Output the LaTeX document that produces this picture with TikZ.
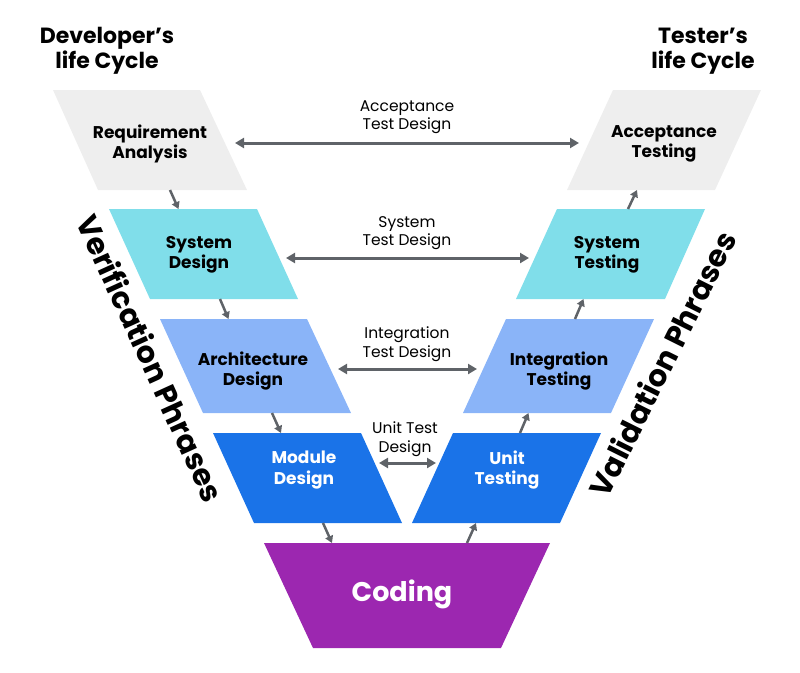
\documentclass[tikz,border=0pt]{standalone}
\usepackage{fontspec}
\setmainfont{Poppins}
\usetikzlibrary{arrows.meta}
\definecolor{boxgray}{HTML}{EEEEEE}
\definecolor{syscyan}{HTML}{80DEEA}
\definecolor{archblue}{HTML}{8AB4F8}
\definecolor{modblue}{HTML}{1A73E8}
\definecolor{codepurple}{HTML}{9C27B0}
\definecolor{arrowgray}{HTML}{5F6368}
\tikzset{
  boxlabel/.style={align=center, font=\fontsize{17}{20.5}\selectfont\bfseries, inner sep=0pt},
  midlabel/.style={align=center, font=\fontsize{15.5}{18.5}\selectfont, inner sep=0pt},
  headlabel/.style={align=center, font=\fontsize{22}{25}\selectfont\bfseries, inner sep=0pt},
  phaselabel/.style={font=\fontsize{30}{34}\selectfont\bfseries, inner sep=0pt},
  linkarrow/.style={draw=arrowgray, line width=3pt, {Triangle[length=9pt,width=10pt]}-{Triangle[length=9pt,width=10pt]}},
  steparrow/.style={draw=arrowgray, line width=2.5pt, -{Triangle[length=7pt,width=8pt]}},
}
\begin{document}
\begin{tikzpicture}[x=1pt,y=-1pt]
\useasboundingbox (0,0) rectangle (800,672);
% shapes
\fill[boxgray] (53,90) -- (200,90) -- (247,190) -- (98,190) -- cycle;
\fill[boxgray] (613,90) -- (761,90) -- (715,190) -- (567,190) -- cycle;
\fill[syscyan] (109,209) -- (257,209) -- (298,299) -- (150,299) -- cycle;
\fill[syscyan] (557,209) -- (705,209) -- (665,299) -- (516,299) -- cycle;
\fill[archblue] (160,319) -- (307,319) -- (351,413) -- (203,413) -- cycle;
\fill[archblue] (506,319) -- (654,319) -- (611,413) -- (463,413) -- cycle;
\fill[modblue] (213,433) -- (361,433) -- (402,523) -- (254,523) -- cycle;
\fill[modblue] (453,433) -- (601,433) -- (560,523) -- (412,523) -- cycle;
\fill[codepurple] (264,543) -- (550,543) -- (501,648) -- (313,648) -- cycle;
% headers
\node[headlabel] (devhead) at (107,51) {Developer’s\\life Cycle};
\node[headlabel] (testhead) at (703,51) {Tester’s\\life Cycle};
% box labels
\node[boxlabel] (req) at (150,144) {Requirement\\Analysis};
\node[boxlabel] (acc) at (664,144) {Acceptance\\Testing};
\node[boxlabel] (sysd) at (199,255) {System\\Design};
\node[boxlabel] (syst) at (607,255) {System\\Testing};
\node[boxlabel] (arch) at (253,371) {Architecture\\Design};
\node[boxlabel] (integ) at (559,371) {Integration\\Testing};
\node[boxlabel, text=white] (mod) at (304,470) {Module\\Design};
\node[boxlabel, text=white] (unit) at (507,470) {Unit\\Testing};
\node[font=\fontsize{27}{32}\selectfont\bfseries, text=white, inner sep=0pt] (code) at (402,594) {Coding};
% middle labels
\node[midlabel] (accd) at (407,117) {Acceptance\\Test Design};
\node[midlabel] (sysdes) at (407,233) {System\\Test Design};
\node[midlabel] (intd) at (407,344) {Integration\\Test Design};
\node[midlabel] (unitd) at (405,439) {Unit Test\\Design};
% phase labels
\node[phaselabel, rotate=-65.5] (verif) at (151,358) {Verification Phrases};
\node[phaselabel, rotate=63.5] (valid) at (662,364) {Validation Phrases};
% connector end points
\coordinate (accL) at (235,143); \coordinate (accR) at (579,143);
\coordinate (sysL) at (286,258); \coordinate (sysR) at (529,258);
\coordinate (intL) at (338,369); \coordinate (intR) at (477,369);
\coordinate (unitL) at (379,463); \coordinate (unitR) at (436,463);
\draw[linkarrow] (accL) -- (accR);
\draw[linkarrow] (sysL) -- (sysR);
\draw[linkarrow] (intL) -- (intR);
\draw[linkarrow] (unitL) -- (unitR);
% step arrows
\coordinate (s1a) at (170,190); \coordinate (s1b) at (178.5,209);
\coordinate (s2a) at (220,299); \coordinate (s2b) at (228.5,319);
\coordinate (s3a) at (272,413); \coordinate (s3b) at (281,433);
\coordinate (s4a) at (323,523); \coordinate (s4b) at (332,543);
\coordinate (s5a) at (467,543); \coordinate (s5b) at (476,523);
\coordinate (s6a) at (520,433); \coordinate (s6b) at (528.5,413);
\coordinate (s7a) at (575,319); \coordinate (s7b) at (583.5,299);
\coordinate (s8a) at (628,209); \coordinate (s8b) at (637,190);
\draw[steparrow] (s1a) -- (s1b);
\draw[steparrow] (s2a) -- (s2b);
\draw[steparrow] (s3a) -- (s3b);
\draw[steparrow] (s4a) -- (s4b);
\draw[steparrow] (s5a) -- (s5b);
\draw[steparrow] (s6a) -- (s6b);
\draw[steparrow] (s7a) -- (s7b);
\draw[steparrow] (s8a) -- (s8b);
\end{tikzpicture}
\end{document}
